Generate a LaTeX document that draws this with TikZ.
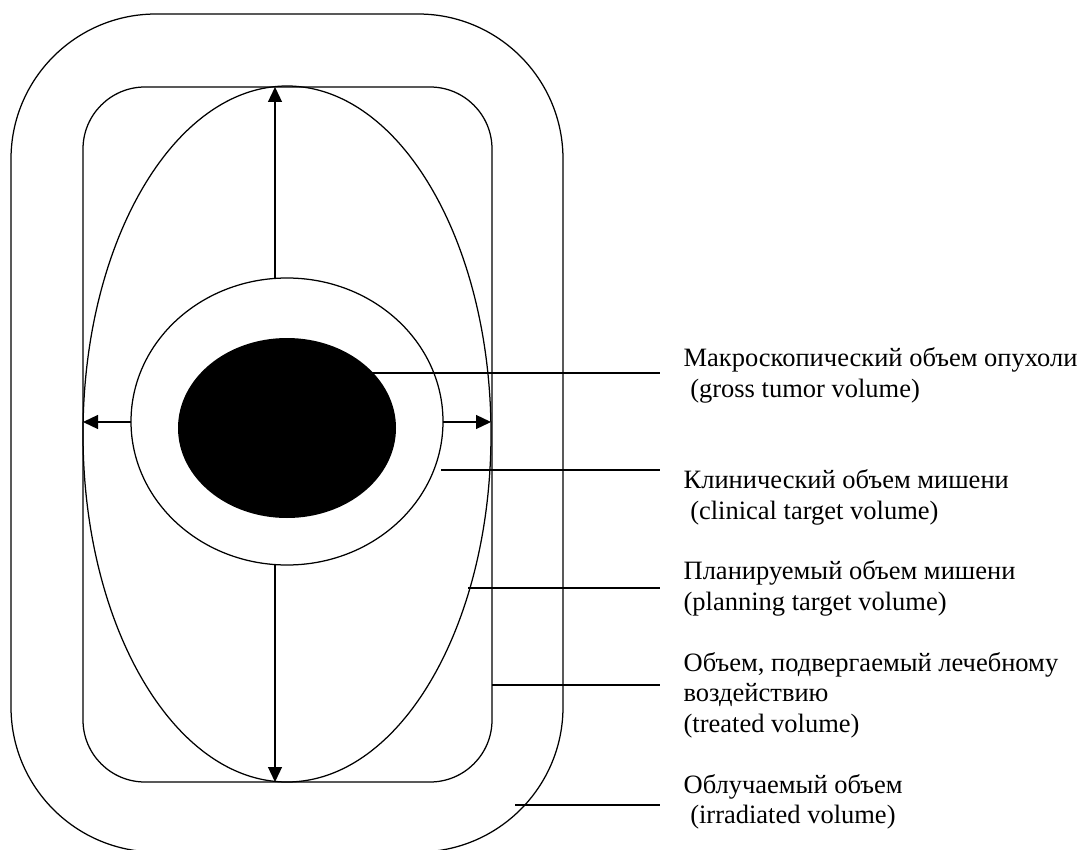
\documentclass[tikz,border=0pt]{standalone}
\usepackage{fontspec}
\setmainfont{Liberation Serif}
\usetikzlibrary{shapes.geometric,arrows.meta}
\begin{document}
\begin{tikzpicture}[x=1pt,y=-1pt,line width=1.25pt,
  lbl/.style={anchor=base west,inner sep=0pt,font=\fontsize{26.5}{30.5}\selectfont},
  vol/.style={draw,inner sep=0pt},
  dimarrow/.style={-{Triangle[length=15pt,width=14pt]}}]
\useasboundingbox (0,0) rectangle (1081,850);
\begin{scope}
\clip (0,0) rectangle (1081,850);
\node[vol,rounded corners=145pt,minimum width=552pt,minimum height=838pt] (irr) at (287,433) {};
\end{scope}
\node[vol,rounded corners=62pt,minimum width=409pt,minimum height=695pt] (tv) at (287.5,434.5) {};
\node[vol,ellipse,minimum width=408pt,minimum height=696pt] (ptv) at (287,434) {};
\node[vol,ellipse,minimum width=312pt,minimum height=287pt] (ctv) at (287,421.5) {};
\node[ellipse,fill=black,inner sep=0pt,minimum width=218pt,minimum height=180pt] (gtv) at (287,428) {};
% margin arrows
\coordinate (au1) at (275,278);
\coordinate (au2) at (275,87);
\coordinate (ad1) at (275,565);
\coordinate (ad2) at (275,782);
\coordinate (al1) at (131,422);
\coordinate (al2) at (83,422);
\coordinate (ar1) at (443,422);
\coordinate (ar2) at (491,422);
\draw[dimarrow] (au1) -- (au2);
\draw[dimarrow] (ad1) -- (ad2);
\draw[dimarrow] (al1) -- (al2);
\draw[dimarrow] (ar1) -- (ar2);
% leaders
\coordinate (g1) at (370,373);   \coordinate (g2) at (660,373);
\coordinate (c1) at (441,470);   \coordinate (c2) at (660,470);
\coordinate (p1) at (468,588);   \coordinate (p2) at (660,588);
\coordinate (t1) at (492,685);   \coordinate (t2) at (660,685);
\coordinate (i1) at (515,805);   \coordinate (i2) at (660,805);
\draw (g1) -- (g2);
\draw (c1) -- (c2);
\draw (p1) -- (p2);
\draw (t1) -- (t2);
\draw (i1) -- (i2);
% labels
\node[lbl] (lg1) at (683,366.5) {Макроскопический объем опухоли};
\node[lbl] (lg2) at (683,397) {\ (gross tumor volume)};
\node[lbl] (lc1) at (683,488.5) {Клинический объем мишени};
\node[lbl] (lc2) at (683,519) {\ (clinical target volume)};
\node[lbl] (lp1) at (683,579.5) {Планируемый объем мишени};
\node[lbl] (lp2) at (683,610) {(planning target volume)};
\node[lbl] (lt1) at (683,671) {Объем, подвергаемый лечебному};
\node[lbl] (lt2) at (683,701.5) {воздействию};
\node[lbl] (lt3) at (683,732) {(treated volume)};
\node[lbl] (li1) at (683,793) {Облучаемый объем};
\node[lbl] (li2) at (683,823.5) {\ (irradiated volume)};
\end{tikzpicture}
\end{document}
